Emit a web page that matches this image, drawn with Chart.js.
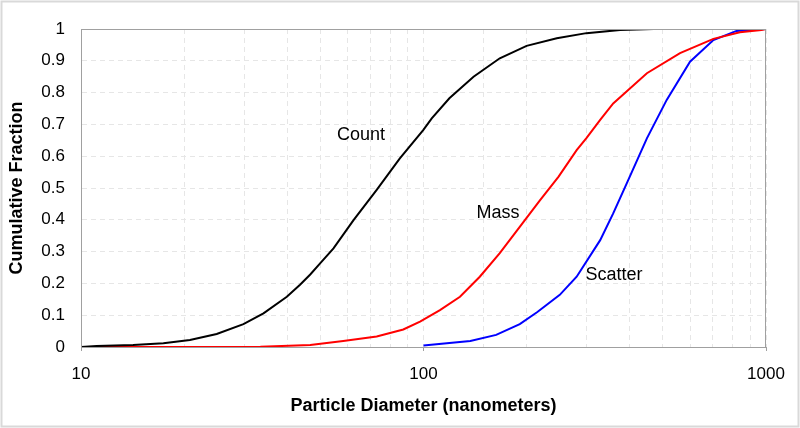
<!DOCTYPE html>
<html>
<head>
<meta charset="utf-8">
<script src="https://cdn.jsdelivr.net/npm/chart.js@4/dist/chart.umd.min.js"></script>
<style>
  html, body { margin: 0; padding: 0; background: #fff; }
  #wrap { width: 800px; height: 428px; }
</style>
</head>
<body>
<div id="wrap"><canvas id="psd" width="800" height="428"></canvas></div>
<script>
/* Cumulative particle size distributions (count / mass / scatter), log x axis. */

const countDiam = [10, 11.1, 14.2, 17.4, 20.8, 24.9, 29.8, 34.1, 39.9, 43.6, 46.7, 49.9, 54.6, 62.4, 73, 85.3, 99.8, 105.7, 119, 140, 167, 200, 245, 299, 375, 470];
const countFrac = [0, 0.003, 0.006, 0.012, 0.022, 0.041, 0.072, 0.106, 0.158, 0.196, 0.228, 0.263, 0.31, 0.398, 0.494, 0.593, 0.682, 0.719, 0.782, 0.85, 0.908, 0.947, 0.971, 0.987, 0.997, 1];

const massDiam = [10, 33.4, 46.7, 58.3, 73, 87.3, 97.7, 111.7, 127.8, 146, 167, 191, 219, 248, 280, 299, 328, 358, 449, 561, 702, 839, 970, 1000];
const massFrac = [0, 0.001, 0.006, 0.019, 0.033, 0.055, 0.08, 0.116, 0.158, 0.221, 0.295, 0.378, 0.462, 0.536, 0.619, 0.657, 0.714, 0.766, 0.861, 0.924, 0.969, 0.99, 0.997, 1];

const scatterDiam = [100, 117, 137, 163, 191, 215, 250, 280, 328, 358, 396, 449, 513, 600, 702, 820, 1000];
const scatterFrac = [0.005, 0.012, 0.019, 0.038, 0.072, 0.11, 0.164, 0.221, 0.336, 0.42, 0.525, 0.656, 0.777, 0.897, 0.965, 0.994, 1];

const xTickLabels = [10, 100, 1000];
const yTickValues = [0, 0.1, 0.2, 0.3, 0.4, 0.5, 0.6, 0.7, 0.8, 0.9, 1];

// in-plot curve names, anchored in data units
const curveNames = [
  { text: 'Count', d: 65.7, f: 0.667 },
  { text: 'Mass', d: 165, f: 0.421 },
  { text: 'Scatter', d: 360, f: 0.225 },
];

const FONT = '"Liberation Sans", Arial, sans-serif';
const AXIS_GRAY = '#a0a0a0';
const GRID_GRAY = '#e6e6e6';

function pts(xs, ys) {
  return xs.map((x, i) => ({ x: x, y: ys[i] }));
}

const frame = {
  id: 'frame',
  beforeDraw(chart) {
    const ctx = chart.ctx;
    ctx.save();
    ctx.fillStyle = '#fff';
    ctx.fillRect(0, 0, chart.width, chart.height);
    ctx.strokeStyle = '#d9d9d9';
    ctx.lineWidth = 2;
    ctx.strokeRect(1.5, 1.5, chart.width - 3, chart.height - 3);
    ctx.restore();
  },
  afterDatasetsDraw(chart) {
    const ctx = chart.ctx;
    const a = chart.chartArea;
    const xs = chart.scales.x, ys = chart.scales.y;
    ctx.save();
    ctx.strokeStyle = AXIS_GRAY;
    ctx.lineWidth = 1;
    ctx.strokeRect(a.left + 0.5, a.top + 0.5, a.right - a.left - 1, a.bottom - a.top);
    ctx.fillStyle = '#000';
    ctx.font = '18px ' + FONT;
    ctx.textAlign = 'center';
    ctx.textBaseline = 'middle';
    curveNames.forEach((n) => {
      ctx.fillText(n.text, xs.getPixelForValue(n.d), ys.getPixelForValue(n.f));
    });
    ctx.restore();
  },
};

const line = (data, color) => ({
  data: data,
  borderColor: color,
  backgroundColor: color,
  borderWidth: 2,
  pointRadius: 0,
  tension: 0,
  fill: false,
});

new Chart(document.getElementById('psd'), {
  type: 'line',
  data: {
    datasets: [
      line(pts(countDiam, countFrac), '#000000'),
      line(pts(massDiam, massFrac), '#ff0000'),
      line(pts(scatterDiam, scatterFrac), '#0000ff'),
    ],
  },
  options: {
    responsive: false,
    animation: false,
    layout: { padding: { top: 29, right: 34, left: 0, bottom: 0 } },
    plugins: { legend: { display: false }, tooltip: { enabled: false } },
    scales: {
      x: {
        type: 'logarithmic',
        min: 10,
        max: 1000,
        afterFit: (s) => { s.height = 81; },
        grid: {
          color: GRID_GRAY,
          lineWidth: 1,
          tickLength: 4,
          tickColor: (c) => (xTickLabels.includes(c.tick && c.tick.value) ? AXIS_GRAY : 'rgba(0,0,0,0)'),
          tickBorderDash: [],
        },
        border: { display: true, color: AXIS_GRAY, dash: [5, 4] },
        ticks: {
          autoSkip: false,
          maxRotation: 0,
          padding: 13,
          color: '#000',
          font: { family: FONT, size: 17 },
          callback: (v) => (xTickLabels.includes(v) ? String(v) : ''),
        },
        title: {
          display: true,
          text: 'Particle Diameter (nanometers)',
          color: '#000',
          font: { family: FONT, size: 18, weight: 'bold' },
          padding: { top: 0, bottom: 11 },
        },
      },
      y: {
        min: 0,
        max: 1,
        afterFit: (s) => { s.width = 81; },
        afterBuildTicks: (s) => { s.ticks = yTickValues.map((v) => ({ value: v })); },
        grid: { color: GRID_GRAY, lineWidth: 1, drawTicks: false },
        border: { display: true, color: AXIS_GRAY, dash: [5, 4] },
        ticks: {
          padding: 16,
          color: '#000',
          font: { family: FONT, size: 17 },
          callback: (v) => String(Math.round(v * 10) / 10),
        },
        title: {
          display: true,
          text: 'Cumulative Fraction',
          color: '#000',
          font: { family: FONT, size: 18, weight: 'bold' },
          padding: { top: 6, bottom: 0 },
        },
      },
    },
  },
  plugins: [frame],
});
</script>
</body>
</html>
